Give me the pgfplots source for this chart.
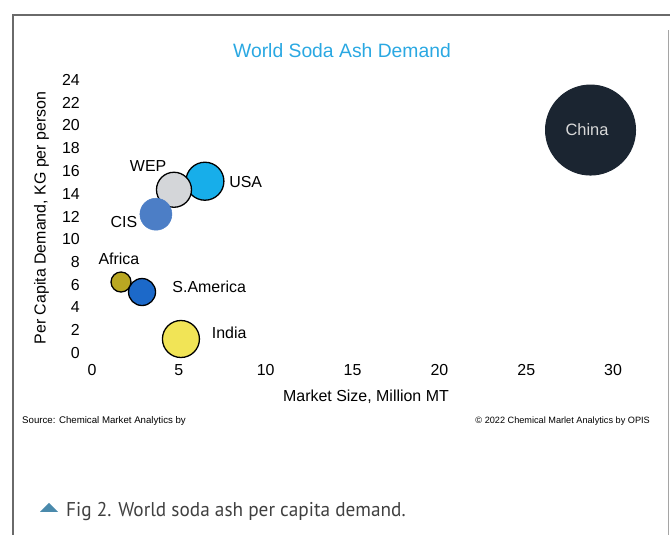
\documentclass[border=0pt]{standalone}
\usepackage{pgfplots}
\pgfplotsset{compat=1.18}
\usepackage{fontspec}
\setmainfont{Liberation Sans}
\newfontfamily\capfont{PT Sans}
\definecolor{titleblue}{HTML}{2AA8E2}
\definecolor{chinac}{HTML}{1B2531}
\definecolor{usac}{HTML}{17AEEA}
\definecolor{wepc}{HTML}{D4D6D9}
\definecolor{cisc}{HTML}{4C7EC6}
\definecolor{afric}{HTML}{B9A722}
\definecolor{samc}{HTML}{1C69C9}
\definecolor{indc}{HTML}{F1E456}
\definecolor{tric}{HTML}{4A8AAC}
\definecolor{framec}{HTML}{6A6A6A}
\begin{document}
\begin{tikzpicture}[x=1bp,y=1bp]
\path[use as bounding box] (0,0) rectangle (670,535);
\draw[framec, line width=1.2bp] (13,0) -- (13,520) -- (670,520);
\draw[framec!60, line width=1bp] (668.5,0) -- (668.5,505);
\begin{axis}[
  at={(92bp,182bp)}, anchor=south west,
  scale only axis, width=555.84bp, height=273bp,
  xmin=0, xmax=32, ymin=0, ymax=24,
  clip=false,
  axis line style={draw=none},
  tick style={draw=none},
  major tick length=0pt,
  xtick={0,5,...,30}, ytick={0,2,...,24},
  tick label style={font=\fontsize{16}{19}\selectfont},
  /pgf/number format/assume math mode=true,
  xticklabel style={anchor=north, inner sep=0pt, yshift=-11bp},
  yticklabel style={anchor=east, inner sep=0pt, xshift=-12bp},
]
% China
\addplot[only marks, mark=*, mark size=45bp, mark options={fill=chinac, draw=chinac, line width=1bp}] coordinates {(28.7,19.6)};
% USA
\addplot[only marks, mark=*, mark size=19bp, mark options={fill=usac, draw=black, line width=1.3bp}] coordinates {(6.5,15.1)};
% WEP
\addplot[only marks, mark=*, mark size=17.5bp, mark options={fill=wepc, draw=black, line width=1.3bp}] coordinates {(4.72,14.35)};
% CIS
\addplot[only marks, mark=*, mark size=16bp, mark options={fill=cisc, draw=cisc, line width=0.5bp}] coordinates {(3.68,12.2)};
% Africa
\addplot[only marks, mark=*, mark size=10bp, mark options={fill=afric, draw=black, line width=1.3bp}] coordinates {(1.67,6.24)};
% S.America
\addplot[only marks, mark=*, mark size=13.5bp, mark options={fill=samc, draw=black, line width=1.3bp}] coordinates {(2.88,5.36)};
% India
\addplot[only marks, mark=*, mark size=18.5bp, mark options={fill=indc, draw=black, line width=1.3bp}] coordinates {(5.12,1.23)};
\coordinate (chinalab) at (axis cs:28.5,19.6);
\begin{scope}[font=\fontsize{16}{19}\selectfont]
\node at (axis cs:3.23,16.44) {WEP};
\node at (axis cs:8.85,15.0) {USA};
\node at (axis cs:1.84,11.52) {CIS};
\node at (axis cs:1.55,8.26) {Africa};
\node at (axis cs:6.75,5.8) {S.America};
\node at (axis cs:7.9,1.76) {India};
\end{scope}
\end{axis}
\node[font=\fontsize{16.5}{19}\selectfont, text=white!85!black] at (chinalab) {China};
\node[font=\fontsize{19.4}{23}\selectfont, text=titleblue] at (342,484) {World Soda Ash Demand};
\node[rotate=90, anchor=base, font=\fontsize{16}{19}\selectfont] at (45.7,317) {Per Capita Demand, KG per person};
\node[anchor=base, font=\fontsize{16}{19}\selectfont] at (366,133) {Market Size, Million MT};
\node[anchor=base west, inner sep=0pt, font=\fontsize{9.7}{11}\selectfont] at (22,111) {Source: Chemical Market Analytics by};
\node[anchor=base east, inner sep=0pt, font=\fontsize{9.2}{11}\selectfont] at (650,111) {\textcopyright{} 2022 Chemical Marlet Analytics by OPIS};
\fill[tric] (40,23) -- (58,23) -- (49,32) -- cycle;
\node[anchor=base west, inner sep=0pt, text=black!75, font=\capfont\fontsize{20}{24}\selectfont] at (66,18) {\scalebox{0.967}[1]{Fig 2. World soda ash per capita demand.}};
\end{tikzpicture}
\end{document}
